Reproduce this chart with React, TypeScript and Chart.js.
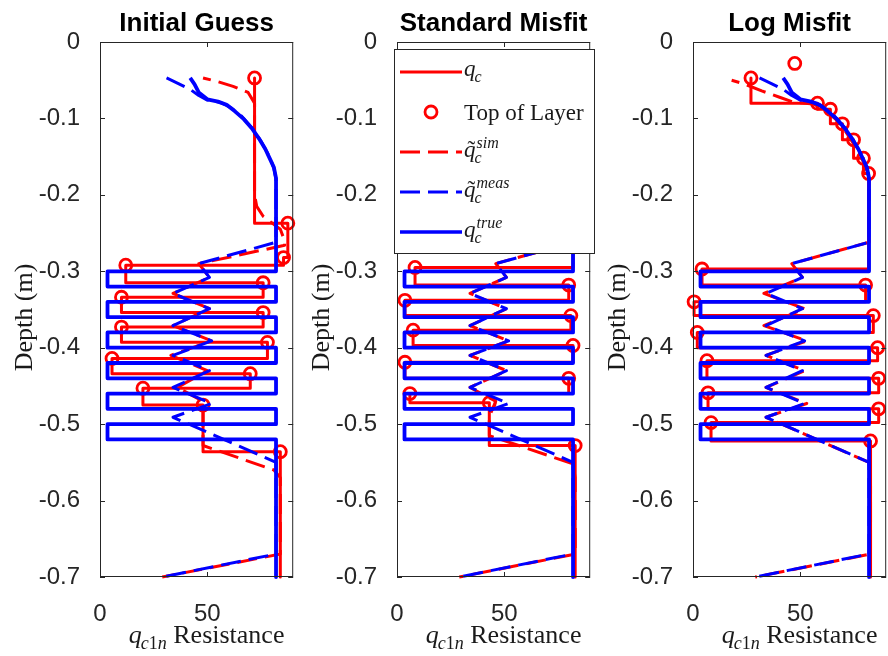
import React, { useEffect, useRef } from "react";
import { Chart, registerables } from "chart.js";

Chart.register(...registerables);

type Pt = [number, number];

const RED = "#ff0000";
const BLUE = "#0000ff";
const AXIS = "#262626";
const SANS = '"Liberation Sans", Arial, Helvetica, sans-serif';
const SERIF = '"Liberation Serif", "Times New Roman", serif';

const panelTitles = ["Initial Guess", "Standard Misfit", "Log Misfit"];
const depthTicks = [0, -0.1, -0.2, -0.3, -0.4, -0.5, -0.6, -0.7];
const resistanceTicks = [0, 50];
const yAxisLabel = "Depth (m)";
const xAxisLabel = { main: "q", sub: ["c", "1", "n"], rest: " Resistance" };
const legendLabels = ["q_c", "Top of Layer", "q~_c^sim", "q~_c^meas", "q_c^true"];

// true profile (blue solid) [q, depth]
const trueProfile: Pt[] = [
  [42, -0.047], [44, -0.055], [46, -0.066], [50, -0.075], [55, -0.078], [59, -0.082],
  [63, -0.091], [67, -0.101], [71, -0.114], [74, -0.126], [77, -0.14], [79, -0.152],
  [81, -0.164], [82, -0.178], [82, -0.3], [3.5, -0.3], [3.5, -0.32], [82, -0.32],
  [82, -0.34], [3.5, -0.34], [3.5, -0.36], [82, -0.36], [82, -0.38], [3.5, -0.38],
  [3.5, -0.4], [82, -0.4], [82, -0.42], [3.5, -0.42], [3.5, -0.44], [82, -0.44],
  [82, -0.46], [3.5, -0.46], [3.5, -0.48], [82, -0.48], [82, -0.5], [3.5, -0.5],
  [3.5, -0.52], [82, -0.52], [82, -0.7],
];

// measured (blue dashed)
const measProfile: Pt[] = [
  [31, -0.047], [37, -0.055], [42, -0.062], [46, -0.07], [50, -0.076], [56, -0.079],
  [61, -0.086], [66, -0.097], [71, -0.113], [75, -0.13], [79, -0.15], [81, -0.165],
  [82, -0.18], [82, -0.262], [46, -0.29], [51, -0.308], [34, -0.329], [51, -0.349],
  [34, -0.371], [52, -0.391], [34, -0.41], [51, -0.43], [34, -0.452], [52, -0.473],
  [34, -0.491], [82, -0.55], [82, -0.67], [29, -0.7],
];

// Initial Guess
const qcInitial: Pt[] = [
  [72, -0.047], [72, -0.237], [87.5, -0.237], [87.5, -0.282], [85.5, -0.282], [85.5, -0.292],
  [12, -0.292], [12, -0.315], [76, -0.315], [76, -0.334], [10, -0.334], [10, -0.354],
  [76, -0.354], [76, -0.373], [10, -0.373], [10, -0.393], [78, -0.393], [78, -0.414],
  [5.6, -0.414], [5.6, -0.434], [70, -0.434], [70, -0.453], [20, -0.453], [20, -0.475],
  [48, -0.475], [48, -0.536], [84, -0.536], [84, -0.7],
];
const topsInitial: Pt[] = [
  [72, -0.047], [87.5, -0.237], [85.5, -0.282], [12, -0.292], [76, -0.315], [10, -0.334],
  [76, -0.354], [10, -0.373], [78, -0.393], [5.6, -0.414], [70, -0.434], [20, -0.453],
  [48, -0.475], [84, -0.536],
];
const simInitial: Pt[] = [
  [48, -0.047], [55, -0.052], [62, -0.058], [69, -0.066], [72, -0.08], [72, -0.2],
  [73, -0.215], [76, -0.228], [84, -0.245], [86, -0.26], [86, -0.266], [46, -0.29],
  [51, -0.308], [34, -0.329], [51, -0.349], [34, -0.371], [52, -0.391], [33, -0.41],
  [50, -0.43], [36, -0.452], [48, -0.47], [48, -0.528], [81, -0.56], [84, -0.57],
  [84, -0.67], [29, -0.7],
];

// Standard Misfit
const qcStandard: Pt[] = [
  [82, -0.18], [82, -0.295], [8.4, -0.295], [8.4, -0.318], [80, -0.318], [80, -0.338],
  [3.7, -0.338], [3.7, -0.358], [81, -0.358], [81, -0.377], [7.5, -0.377], [7.5, -0.397],
  [82, -0.397], [82, -0.419], [3.7, -0.419], [3.7, -0.44], [80, -0.44], [80, -0.46],
  [6, -0.46], [6, -0.472], [43, -0.472], [43, -0.528], [83, -0.528], [83, -0.7],
];
const topsStandard: Pt[] = [
  [8.4, -0.295], [80, -0.318], [3.7, -0.338], [81, -0.358], [7.5, -0.377], [82, -0.397],
  [3.7, -0.419], [80, -0.44], [6, -0.46], [43, -0.472], [83, -0.528],
];
const simStandard: Pt[] = [
  [82, -0.18], [82, -0.262], [46, -0.29], [51, -0.308], [34, -0.329], [51, -0.349],
  [34, -0.371], [52, -0.391], [34, -0.41], [51, -0.43], [34, -0.452], [46, -0.47],
  [43, -0.49], [43, -0.515], [82, -0.552], [83, -0.57], [83, -0.67], [29, -0.7],
];

// Log Misfit
const qcLog: Pt[] = [
  [27, -0.047], [27, -0.08], [58, -0.08], [58, -0.088], [64, -0.088], [64, -0.107],
  [69.6, -0.107], [69.6, -0.128], [74.8, -0.128], [74.8, -0.152], [79.4, -0.152],
  [79.4, -0.172], [81.8, -0.172], [81.8, -0.297], [4.2, -0.297], [4.2, -0.318],
  [80.4, -0.318], [80.4, -0.34], [0.5, -0.34], [0.5, -0.358], [84, -0.358], [84, -0.38],
  [2, -0.38], [2, -0.4], [86, -0.4], [86, -0.417], [6.5, -0.417], [6.5, -0.44],
  [86.5, -0.44], [86.5, -0.459], [7, -0.459], [7, -0.48], [86.5, -0.48], [86.5, -0.498],
  [8.4, -0.498], [8.4, -0.522], [82.7, -0.522], [82.7, -0.7],
];
const topsLog: Pt[] = [
  [47.4, -0.028], [27, -0.047], [58, -0.08], [64, -0.088], [69.6, -0.107], [74.8, -0.128],
  [79.4, -0.152], [81.8, -0.172], [4.2, -0.297], [80.4, -0.318], [0.5, -0.34], [84, -0.358],
  [2, -0.38], [86, -0.4], [6.5, -0.417], [86.5, -0.44], [7, -0.459], [86.5, -0.48],
  [8.4, -0.498], [82.7, -0.522],
];
const simLog: Pt[] = [
  [18, -0.05], [24, -0.055], [32, -0.064], [40, -0.072], [47, -0.079], [56, -0.081],
  [62, -0.09], [68, -0.105], [73, -0.125], [78, -0.148], [81, -0.168], [82, -0.18],
  [82, -0.262], [46, -0.29], [51, -0.308], [33, -0.329], [52, -0.349], [33, -0.371],
  [53, -0.391], [34, -0.41], [52, -0.43], [34, -0.452], [53, -0.473], [34, -0.491],
  [82, -0.55], [82.7, -0.58], [82.7, -0.67], [29, -0.7],
];

const panels = [
  { qc: qcInitial, tops: topsInitial, sim: simInitial },
  { qc: qcStandard, tops: topsStandard, sim: simStandard },
  { qc: qcLog, tops: topsLog, sim: simLog },
];

const frames = [
  { left: 0, width: 302, axisW: 100, padR: 0 },
  { left: 298, width: 301, axisW: 99, padR: 0 },
  { left: 598, width: 297, axisW: 95, padR: 0 },
];

const pts = (a: Pt[]) => a.map(([x, y]) => ({ x, y }));
const fmtDepth = (v: number) => {
  const n = Math.round(v * 10) / 10;
  return n === 0 ? "0" : n.toFixed(1);
};

function drawMathQ(ctx: CanvasRenderingContext2D, x: number, base: number, size: number,
  opts: { tilde?: boolean; sub?: string[]; sup?: string }) {
  ctx.textAlign = "left";
  ctx.textBaseline = "alphabetic";
  ctx.font = `italic ${size}px ${SERIF}`;
  ctx.fillText("q", x, base);
  const qW = ctx.measureText("q").width;
  if (opts.tilde) {
    ctx.font = `${size}px ${SERIF}`;
    const tw = ctx.measureText("\u02DC").width;
    ctx.fillText("\u02DC", x + qW / 2 - tw / 2 + 1.5, base);
  }
  const small = Math.round(size * 0.7);
  let end = x + qW;
  if (opts.sub) {
    let sx = x + qW - 1;
    for (const ch of opts.sub) {
      ctx.font = (ch >= "0" && ch <= "9" ? "" : "italic ") + `${small}px ${SERIF}`;
      ctx.fillText(ch, sx, base + size * 0.24);
      sx += ctx.measureText(ch).width;
    }
    end = Math.max(end, sx);
  }
  if (opts.sup) {
    ctx.font = `italic ${small}px ${SERIF}`;
    ctx.fillText(opts.sup, x + qW + 1, base - size * 0.4);
    end = Math.max(end, x + qW + 1 + ctx.measureText(opts.sup).width);
  }
  return end - x;
}

function drawLegend(ctx: CanvasRenderingContext2D) {
  const bx = 96, by = 49, bw = 201, bh = 205;
  ctx.save();
  ctx.fillStyle = "#ffffff";
  ctx.fillRect(bx, by, bw, bh);
  ctx.strokeStyle = AXIS;
  ctx.lineWidth = 1;
  ctx.strokeRect(bx + 0.5, by + 0.5, bw - 1, bh - 1);
  const rows = [72, 112, 152, 192, 232];
  const x0 = 102, x1 = 164, tx = 166;
  ctx.lineCap = "butt";
  ctx.strokeStyle = RED; ctx.lineWidth = 3; ctx.setLineDash([]);
  ctx.beginPath(); ctx.moveTo(x0, rows[0]); ctx.lineTo(x1, rows[0]); ctx.stroke();
  ctx.lineWidth = 2.8;
  ctx.beginPath(); ctx.arc((x0 + x1) / 2, rows[1], 6, 0, Math.PI * 2); ctx.stroke();
  ctx.lineWidth = 3; ctx.setLineDash([20, 8]);
  ctx.beginPath(); ctx.moveTo(x0, rows[2]); ctx.lineTo(x1, rows[2]); ctx.stroke();
  ctx.strokeStyle = BLUE;
  ctx.beginPath(); ctx.moveTo(x0, rows[3]); ctx.lineTo(x1, rows[3]); ctx.stroke();
  ctx.setLineDash([]); ctx.lineWidth = 3.5;
  ctx.beginPath(); ctx.moveTo(x0, rows[4]); ctx.lineTo(x1, rows[4]); ctx.stroke();

  ctx.fillStyle = "#1a1a1a";
  drawMathQ(ctx, tx, rows[0] + 4, 23, { sub: ["c"] });
  ctx.font = `23px ${SERIF}`;
  ctx.textAlign = "left";
  ctx.textBaseline = "alphabetic";
  ctx.fillText(legendLabels[1], tx, rows[1] + 8);
  drawMathQ(ctx, tx, rows[2] + 5, 23, { tilde: true, sub: ["c"], sup: "sim" });
  drawMathQ(ctx, tx, rows[3] + 5, 23, { tilde: true, sub: ["c"], sup: "meas" });
  drawMathQ(ctx, tx, rows[4] + 5, 23, { sub: ["c"], sup: "true" });
  ctx.restore();
}

function makePlugin(idx: number) {
  return {
    id: "decor" + idx,
    afterDatasetsDraw(chart: any) {
      const { ctx, chartArea: a, scales } = chart;
      ctx.save();
      ctx.strokeStyle = AXIS;
      ctx.lineWidth = 1;
      ctx.setLineDash([]);
      ctx.strokeRect(a.left + 0.5, a.top + 0.5, a.right - a.left - 1, a.bottom - a.top - 1);
      ctx.beginPath();
      for (const v of depthTicks) {
        const py = Math.round(scales.y.getPixelForValue(v)) + 0.5;
        ctx.moveTo(a.left, py); ctx.lineTo(a.left + 5, py);
        ctx.moveTo(a.right, py); ctx.lineTo(a.right - 5, py);
      }
      for (const v of resistanceTicks) {
        const px = Math.round(scales.x.getPixelForValue(v)) + 0.5;
        ctx.moveTo(px, a.bottom); ctx.lineTo(px, a.bottom - 5);
        ctx.moveTo(px, a.top); ctx.lineTo(px, a.top + 5);
      }
      ctx.stroke();
      ctx.restore();
    },
    afterDraw(chart: any) {
      const { ctx, chartArea: a } = chart;
      ctx.save();
      const cx = (a.left + a.right) / 2;
      ctx.fillStyle = "#000";
      ctx.font = `bold 26px ${SANS}`;
      ctx.textAlign = "center";
      ctx.textBaseline = "alphabetic";
      ctx.fillText(panelTitles[idx], cx, 31);
      ctx.fillStyle = "#1a1a1a";
      ctx.save();
      ctx.translate(a.left - 75, (a.top + a.bottom) / 2 + 8);
      ctx.rotate(-Math.PI / 2);
      ctx.font = `26px ${SERIF}`;
      ctx.textAlign = "center";
      ctx.textBaseline = "middle";
      ctx.fillText(yAxisLabel, 0, 0);
      ctx.restore();
      ctx.font = `26px ${SERIF}`;
      const restW = ctx.measureText(xAxisLabel.rest).width;
      ctx.font = `italic 26px ${SERIF}`;
      const qW = ctx.measureText(xAxisLabel.main).width;
      let subW = 0;
      for (const ch of xAxisLabel.sub) {
        ctx.font = (ch >= "0" && ch <= "9" ? "" : "italic ") + `18px ${SERIF}`;
        subW += ctx.measureText(ch).width;
      }
      const total = qW - 1 + subW + restW;
      const sx = cx + 10 - total / 2;
      const base = 643;
      const used = drawMathQ(ctx, sx, base, 26, { sub: xAxisLabel.sub });
      ctx.font = `26px ${SERIF}`;
      ctx.textAlign = "left";
      ctx.fillText(xAxisLabel.rest, sx + used, base);
      if (idx === 1) drawLegend(ctx);
      ctx.restore();
    },
  };
}

function makeConfig(idx: number): any {
  const p = panels[idx];
  const f = frames[idx];
  const lineBase = { showLine: true, pointRadius: 0, pointHoverRadius: 0, fill: false, tension: 0, clip: false, borderJoinStyle: "round", borderCapStyle: "butt" };
  return {
    type: "scatter",
    data: {
      datasets: [
        { ...lineBase, label: "true", data: pts(trueProfile), borderColor: BLUE, borderWidth: 3.8 },
        { ...lineBase, label: "meas", data: pts(measProfile), borderColor: BLUE, borderWidth: 3, borderDash: [20, 8] },
        { ...lineBase, label: "sim", data: pts(p.sim), borderColor: RED, borderWidth: 3, borderDash: [20, 8], borderDashOffset: 12 },
        { label: "tops", data: pts(p.tops), showLine: false, pointRadius: 6, pointHoverRadius: 6, pointBorderWidth: 2.8, pointBorderColor: RED, pointBackgroundColor: "rgba(0,0,0,0)", borderColor: RED, backgroundColor: "rgba(0,0,0,0)", clip: false },
        { ...lineBase, label: "qc", data: pts(p.qc), borderColor: RED, borderWidth: 3 },
      ],
    },
    options: {
      responsive: false,
      maintainAspectRatio: false,
      animation: false,
      events: [],
      devicePixelRatio: 1,
      layout: { padding: { left: 0, right: f.padR, top: 42, bottom: 0 } },
      plugins: { legend: { display: false }, title: { display: false }, tooltip: { enabled: false } },
      scales: {
        x: {
          type: "linear", min: 0, max: 90,
          afterBuildTicks: (s: any) => { s.ticks = resistanceTicks.map((v) => ({ value: v })); },
          afterFit: (s: any) => { s.height = 79; },
          grid: { display: false }, border: { display: false },
          ticks: { color: AXIS, font: { family: SANS, size: 24 }, padding: 15, autoSkip: false, maxRotation: 0, minRotation: 0 },
        },
        y: {
          type: "linear", min: -0.7, max: 0,
          afterBuildTicks: (s: any) => { s.ticks = depthTicks.map((v) => ({ value: v })); },
          afterFit: (s: any) => { s.width = f.axisW; },
          grid: { display: false }, border: { display: false },
          ticks: { color: AXIS, font: { family: SANS, size: 24 }, padding: 12, autoSkip: false, callback: (v: number) => fmtDepth(v) },
        },
      },
    },
    plugins: [makePlugin(idx)],
  };
}

function Panel({ idx }: { idx: number }) {
  const ref = useRef<HTMLCanvasElement | null>(null);
  useEffect(() => {
    if (!ref.current) return;
    const chart = new Chart(ref.current, makeConfig(idx));
    return () => chart.destroy();
  }, [idx]);
  const f = frames[idx];
  return (
    <canvas
      ref={ref}
      width={f.width}
      height={656}
      style={{ position: "absolute", left: f.left, top: 0, width: f.width, height: 656 }}
    />
  );
}

export default function App() {
  return (
    <div style={{ position: "fixed", left: 0, top: 0, width: 888, height: 656, background: "#ffffff", overflow: "hidden" }}>
      {[0, 1, 2].map((i) => (
        <Panel key={i} idx={i} />
      ))}
    </div>
  );
}
